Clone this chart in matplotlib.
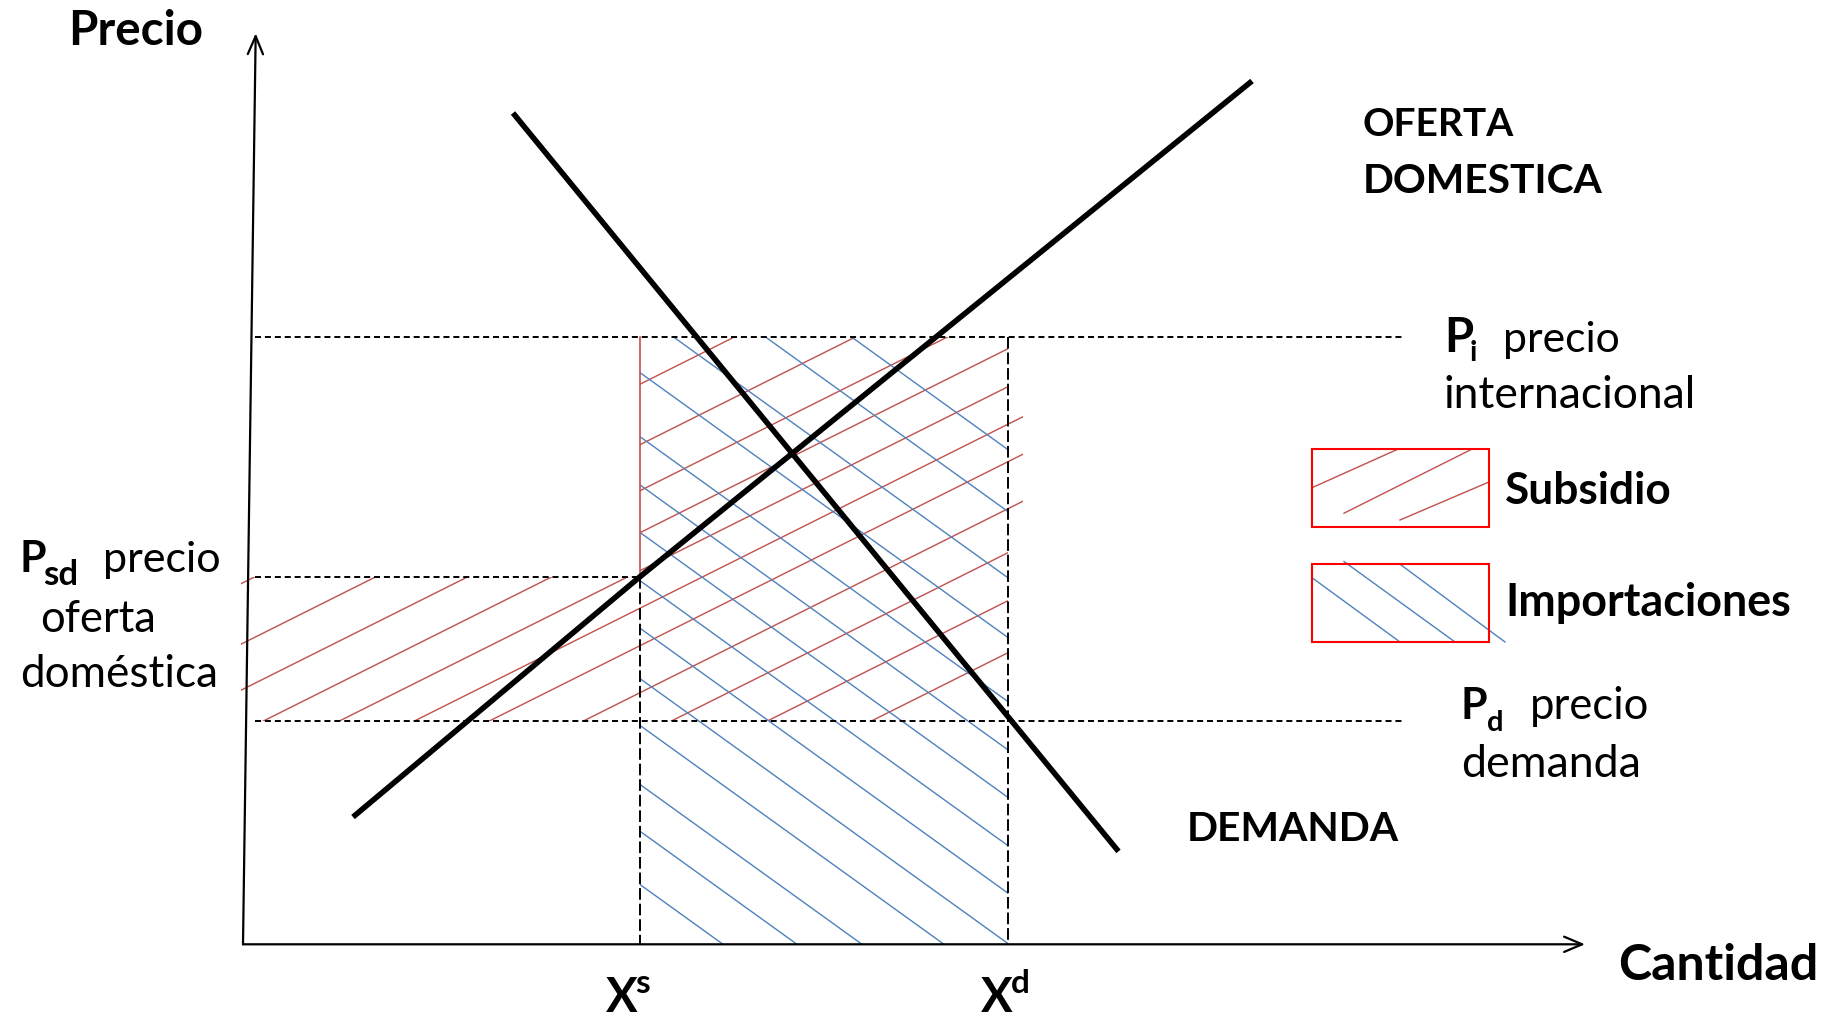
import matplotlib
matplotlib.use("Agg")
import matplotlib.pyplot as plt
import numpy as np
from matplotlib.patches import Polygon, Rectangle

plt.rcParams["font.family"] = ["Lato", "DejaVu Sans"]

# canvas units = pixels of the 1837x1023 picture, y grows downwards
W, H = 1837, 1023

# price levels and quantities of the diagram
p_int = 336.7     # P_i  precio internacional
p_sd = 576.7      # P_sd precio oferta domestica
p_d = 720.7       # P_d  precio demanda
q_s = 640.0       # X^s
q_d = 1007.7      # X^d

# axes of the diagram
origin = (243.0, 944.3)
y_axis_top = (255.7, 33.3)
x_axis_end = (1585.0, 944.3)
guide_start = 255.0
guide_end = 1405.0

# curves
supply_q = [353.0, 640.0, 1252.0]
supply_p = [817.0, 576.7, 81.0]
demand_q = [513.0, 1118.5]
demand_p = [113.0, 851.4]

# hatch strokes: x where each stroke meets its reference level
red_hatch_at_pd = [-33, 88, 180, 264, 340, 415, 490, 584, 672, 768, 872]
blue_hatch_at_axis = [723, 797, 862, 944, 1009, 1079, 1145, 1212, 1278,
                      1345, 1434, 1517, 1609, 1695]
red_slope = -0.5
blue_slope = 0.72

# legend swatches
legend_boxes = [(1312.0, 449.0, 1489.0, 527.3), (1312.0, 564.2, 1489.0, 642.0)]
legend_red_x = [[1312, 1398], [1344, 1472], [1400, 1489]]
legend_red_y = [[487.7, 449.1], [513.2, 449.1], [520.0, 482.0]]
legend_blue_x = [[1312, 1400], [1344, 1455], [1400, 1505]]
legend_blue_y = [[577.7, 642.0], [561.5, 642.0], [564.2, 642.0]]

RED = "#C0504D"
BLUE = "#4F81BD"
BOX_RED = "#FF0000"

fig = plt.figure(figsize=(W / 100, H / 100), dpi=100)
ax = fig.add_axes([0, 0, 1, 1])
ax.set_xlim(0, W)
ax.set_ylim(H, 0)
ax.axis("off")
renderer = fig.canvas.get_renderer()

# ---------------- hatched areas ----------------

red_region = Polygon(
    [(241, p_sd), (q_s, p_sd), (q_s, p_int), (q_d, p_int), (q_d, 392),
     (1023, 392), (1023, 520), (q_d, 520), (q_d, p_d), (241, p_d)],
    closed=True, transform=ax.transData)
blue_region = Rectangle((q_s, p_int), q_d - q_s, origin[1] - p_int,
                        transform=ax.transData)

span = np.array([200.0, 1000.0])
for c in red_hatch_at_pd:
    xs = c + (span - p_d) / red_slope
    ln, = ax.plot(xs, span, color=RED, lw=1.0, zorder=1)
    ln.set_clip_path(red_region)

for c in blue_hatch_at_axis:
    xs = c + (span - origin[1]) / blue_slope
    ln, = ax.plot(xs, span, color=BLUE, lw=1.0, zorder=1)
    ln.set_clip_path(blue_region)

ax.plot([q_s, q_s], [p_int, p_sd], color=RED, lw=1.2, zorder=2)

# ---------------- guide lines ----------------

hdash = (0, (3.1, 2.0))
vdash = (0, (6.0, 2.0))
ax.plot([guide_start, guide_end], [p_int, p_int], color="black", lw=1.4, ls=hdash, zorder=2)
ax.plot([guide_start, q_s], [p_sd, p_sd], color="black", lw=1.4, ls=hdash, zorder=2)
ax.plot([guide_start, guide_end], [p_d, p_d], color="black", lw=1.4, ls=hdash, zorder=2)
ax.plot([q_s, q_s], [p_sd, origin[1]], color="black", lw=1.4, ls=vdash, zorder=2)
ax.plot([q_d, q_d], [p_int, origin[1]], color="black", lw=1.4, ls=vdash, zorder=2)

# ---------------- supply and demand ----------------

ax.plot(supply_q, supply_p, color="black", lw=4.0, zorder=3, solid_capstyle="butt")
ax.plot(demand_q, demand_p, color="black", lw=4.0, zorder=3, solid_capstyle="butt")

# ---------------- axes with arrows ----------------

arrow = dict(arrowstyle="->,head_length=1.3,head_width=0.55", lw=1.6,
             color="black", shrinkA=0, shrinkB=0)
ax.annotate("", xy=y_axis_top, xytext=origin, arrowprops=arrow, zorder=4)
ax.annotate("", xy=x_axis_end, xytext=origin, arrowprops=arrow, zorder=4)

# ---------------- legend ----------------

for x0, y0, x1, y1 in legend_boxes:
    ax.add_patch(Rectangle((x0, y0), x1 - x0, y1 - y0, fill=False,
                           edgecolor=BOX_RED, lw=1.5, zorder=2))
for xs, ys in zip(legend_red_x, legend_red_y):
    ax.plot(xs, ys, color=RED, lw=1.0, zorder=1)
for xs, ys in zip(legend_blue_x, legend_blue_y):
    ax.plot(xs, ys, color=BLUE, lw=1.0, zorder=1)


# ---------------- texts ----------------

def label(x, y, s, width=None, size=30, bold=False):
    t = ax.text(x, y, s, fontsize=size, ha="left", va="baseline",
                fontweight="bold" if bold else "normal", zorder=5)
    if width:
        w = t.get_window_extent(renderer).width
        t.set_fontsize(size * width / w)
    return t


label(68, 45, "Precio", 135, bold=True)
label(1618, 980, "Cantidad", 200, bold=True)

label(1363, 135.6, "OFERTA", 151, bold=True)
label(1363, 192.8, "DOMESTICA", 240, bold=True)
label(1187, 841, "DEMANDA", 213, bold=True)

label(1505, 503.8, "Subsidio", 166, bold=True)
label(1505, 616, "Importaciones", 286, bold=True)

# P_i precio internacional
label(1444, 352, "P", size=34, bold=True)
label(1470, 361, "i", size=21, bold=True)
label(1503, 352, "precio", 117)
label(1443, 408, "internacional", 252)

# P_d precio demanda
label(1461, 719.3, "P", size=31, bold=True)
label(1487, 731, "d", size=21, bold=True)
label(1530, 719.3, "precio", 119)
label(1461, 777.3, "demanda", 180)

# P_sd precio oferta domestica
label(19.7, 571.7, "P", size=31, bold=True)
label(43, 585, "sd", 35, size=21, bold=True)
label(103, 571.7, "precio", 118)
label(39.7, 631.7, "oferta", 116)
label(19.7, 686.7, "doméstica", 198)

# X^s and X^d
label(606, 1012, "X", size=34, bold=True)
label(635.5, 993, "s", size=24, bold=True)
label(981, 1012, "X", size=34, bold=True)
label(1010.5, 993, "d", size=24, bold=True)

fig.savefig("out.png", dpi=100)
